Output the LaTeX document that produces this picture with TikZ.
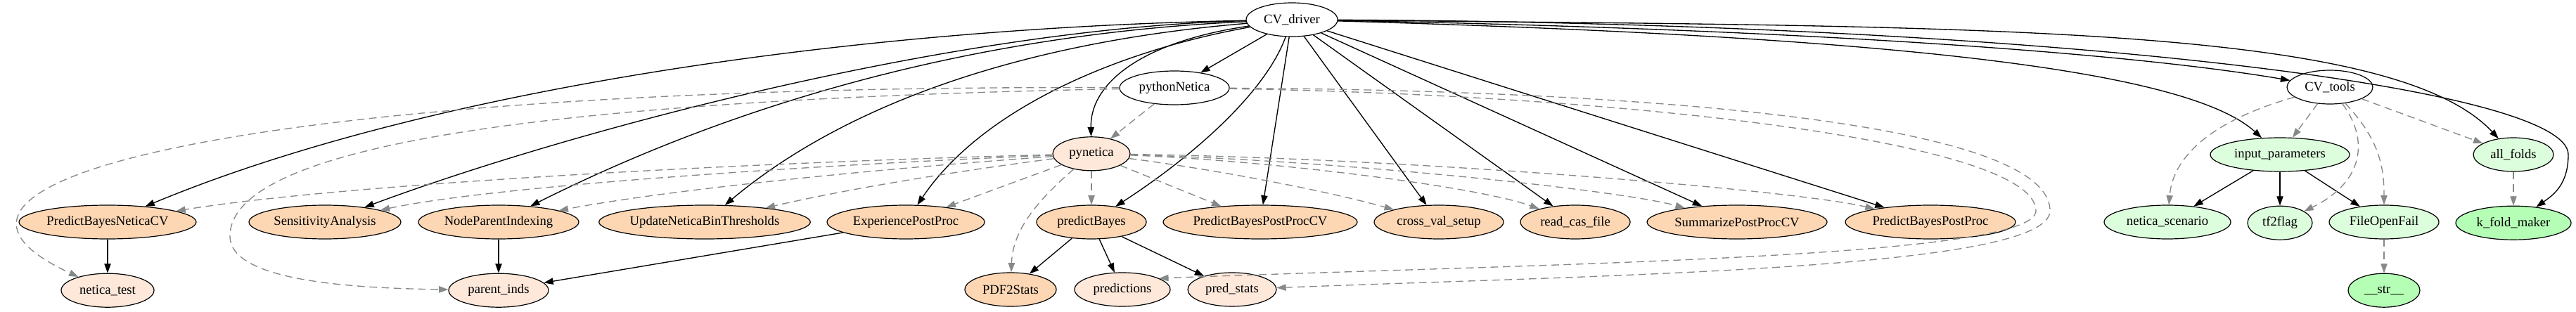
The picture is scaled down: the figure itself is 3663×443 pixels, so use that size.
\documentclass[tikz,border=0pt]{standalone}
\usepackage{fontspec}
\setmainfont{Liberation Serif}
\usetikzlibrary{positioning, arrows.meta, shapes.geometric}
\definecolor{modfill}{RGB}{253,215,180}
\definecolor{leaffill}{RGB}{254,232,218}
\definecolor{toolfill}{RGB}{221,254,221}
\definecolor{toolleaf}{RGB}{181,254,181}
\definecolor{depgray}{RGB}{133,137,137}

\begin{document}
\begin{tikzpicture}[x=0.75pt, y=0.75pt, font=\fontsize{14pt}{16pt}\selectfont, node distance=36pt]
    \tikzset{fn/.style={ellipse, draw, line width=0.9pt, minimum height=36pt, inner xsep=0pt, inner ysep=2pt},
             mod/.style={fn, fill=modfill},
             leaf/.style={fn, fill=leaffill},
             tool/.style={fn, fill=toolfill},
             toolleaf/.style={fn, fill=toolleaf},
             call/.style={line width=1pt, -{Triangle[length=10pt, width=7pt]}},
             dep/.style={call, draw=depgray, dash pattern=on 8pt off 5pt}}
    \path[use as bounding box, fill=white] (0,0) rectangle (3663,443);

    \node[fn, minimum width=97.5pt] (cvdriver) at (1837,415) {CV\_driver};
    \node[fn, minimum width=117pt] (pythonnetica) at (1670,318) {pythonNetica};
    \node[fn, minimum width=91.5pt] (cvtools) at (3313,319) {CV\_tools};

    \node[mod, minimum width=189pt] (pbncv) at (153,127) {PredictBayesNeticaCV};
    \node[leaf, minimum width=99pt, below=of pbncv] (neticatest) {netica\_test};
    \node[mod, minimum width=162pt] (sens) at (462,127) {SensitivityAnalysis};
    \node[mod, minimum width=171pt] (npi) at (709,127) {NodeParentIndexing};
    \node[leaf, minimum width=106.5pt, below=of npi] (parentinds) {parent\_inds};
    \node[mod, minimum width=225pt] (unbt) at (1002,127) {UpdateNeticaBinThresholds};
    \node[mod, minimum width=168pt] (epp) at (1288,127) {ExperiencePostProc};
    \node[mod, minimum width=117pt] (predictbayes) at (1552,127) {predictBayes};
    \node[leaf, minimum width=82.5pt, above=of predictbayes] (pynetica) {pynetica};
    \node[mod, minimum width=97.5pt] (pdfstats) at (1437,31) {PDF2Stats};
    \node[leaf, minimum width=102pt] (predictions) at (1596,31) {predictions};
    \node[leaf, minimum width=94.5pt] (predstats) at (1752,31) {pred\_stats};
    \node[mod, minimum width=207pt] (pbppcv) at (1792,127) {PredictBayesPostProcCV};
    \node[mod, minimum width=138pt] (cvsetup) at (2046,127) {cross\_val\_setup};
    \node[mod, minimum width=117pt] (readcas) at (2240,127) {read\_cas\_file};
    \node[mod, minimum width=192pt] (sppcv) at (2470,127) {SummarizePostProcCV};
    \node[mod, minimum width=181.5pt] (pbpp) at (2745,127) {PredictBayesPostProc};

    \node[tool, minimum width=148.5pt] (inparams) at (3242,223) {input\_parameters};
    \node[tool, minimum width=85.5pt] (allfolds) at (3574,223) {all\_folds};
    \node[tool, minimum width=135pt] (neticascen) at (3082,127) {netica\_scenario};
    \node[tool, minimum width=69pt, below=of inparams] (tfflag) {tf2flag};
    \node[tool, minimum width=117pt] (fileopen) at (3390,127) {FileOpenFail};
    \node[toolleaf, minimum width=123pt, below=of allfolds] (kfold) {k\_fold\_maker};
    \node[toolleaf, minimum width=76.5pt, below=of fileopen] (strnode) {\_\_str\_\_};

    \coordinate (pnturn) at (327,108);
    \coordinate (loopin) at (2895,143);
    \coordinate (loopout) at (2915,143);
    \coordinate (kturn) at (3652,223);

    % calls
    \draw[call] (cvdriver) .. controls (1200,403) and (600,313) .. (pbncv);
    \draw[call] (cvdriver) .. controls (1350,403) and (800,253) .. (sens);
    \draw[call] (cvdriver) .. controls (1450,398) and (1100,323) .. (npi);
    \draw[call] (cvdriver) .. controls (1450,383) and (1200,293) .. (unbt);
    \draw[call] (cvdriver) .. controls (1600,373) and (1400,293) .. (epp);
    \draw[call] (cvdriver) .. controls (1620,383) and (1550,323) .. (pynetica);
    \draw[call] (cvdriver) -- (pythonnetica);
    \draw[call] (cvdriver) .. controls (1800,313) and (1700,223) .. (predictbayes);
    \draw[call] (cvdriver) -- (pbppcv);
    \draw[call] (cvdriver) -- (cvsetup);
    \draw[call] (cvdriver) -- (readcas);
    \draw[call] (cvdriver) -- (sppcv);
    \draw[call] (cvdriver) -- (pbpp);
    \draw[call] (cvdriver) .. controls (2500,403) and (3000,372) .. (cvtools);
    \draw[call] (cvdriver) .. controls (2600,393) and (3100,353) .. (inparams);
    \draw[call] (cvdriver) .. controls (2800,405) and (3400,410) .. (allfolds);
    \draw[call] (cvdriver) .. controls (2900,410) and (3652,320) .. (kturn)
                           .. controls (3652,180) and (3630,165) .. (kfold);
    \draw[call] (pbncv) -- (neticatest);
    \draw[call] (npi) -- (parentinds);
    \draw[call] (epp) -- (parentinds);
    \draw[call] (predictbayes) -- (pdfstats);
    \draw[call] (predictbayes) -- (predictions);
    \draw[call] (predictbayes) -- (predstats);
    \draw[call] (inparams) -- (neticascen);
    \draw[call] (inparams) -- (tfflag);
    \draw[call] (inparams) -- (fileopen);

    % imports
    \draw[dep] (pythonnetica) -- (pynetica);
    \draw[dep] (pythonnetica) .. controls (400,323) and (-200,193) .. (neticatest);
    \draw[dep] (pythonnetica) .. controls (900,303) and (330,253) .. (pnturn)
                              .. controls (325,43) and (500,33) .. (parentinds);
    \draw[dep] (pythonnetica) .. controls (2300,308) and (2895,243) .. (loopin)
                              .. controls (2895,75) and (2200,68) .. (predictions.17);
    \draw[dep] (pythonnetica) .. controls (2300,315) and (2915,273) .. (loopout)
                              .. controls (2915,60) and (2300,52) .. (predstats);
    \draw[dep] (pynetica) .. controls (1100,213) and (500,183) .. (pbncv);
    \draw[dep] (pynetica) .. controls (1150,208) and (700,178) .. (sens);
    \draw[dep] (pynetica) .. controls (1250,203) and (950,173) .. (npi);
    \draw[dep] (pynetica) .. controls (1350,198) and (1200,173) .. (unbt);
    \draw[dep] (pynetica) -- (epp);
    \draw[dep] (pynetica) -- (predictbayes);
    \draw[dep] (pynetica) .. controls (1470,153) and (1440,113) .. (pdfstats);
    \draw[dep] (pynetica) -- (pbppcv);
    \draw[dep] (pynetica) .. controls (1720,203) and (1880,173) .. (cvsetup);
    \draw[dep] (pynetica) .. controls (1800,215) and (2100,178) .. (readcas);
    \draw[dep] (pynetica) .. controls (1900,215) and (2300,173) .. (sppcv);
    \draw[dep] (pynetica) .. controls (2000,218) and (2550,173) .. (pbpp);
    \draw[dep] (cvtools) -- (inparams);
    \draw[dep] (cvtools) .. controls (3150,273) and (3090,223) .. (neticascen);
    \draw[dep] (cvtools) .. controls (3370,243) and (3360,183) .. (tfflag);
    \draw[dep] (cvtools) .. controls (3385,243) and (3390,203) .. (fileopen);
    \draw[dep] (cvtools) -- (allfolds);
    \draw[dep] (allfolds) -- (kfold);
    \draw[dep] (fileopen) -- (strnode);
\end{tikzpicture}
\end{document}
